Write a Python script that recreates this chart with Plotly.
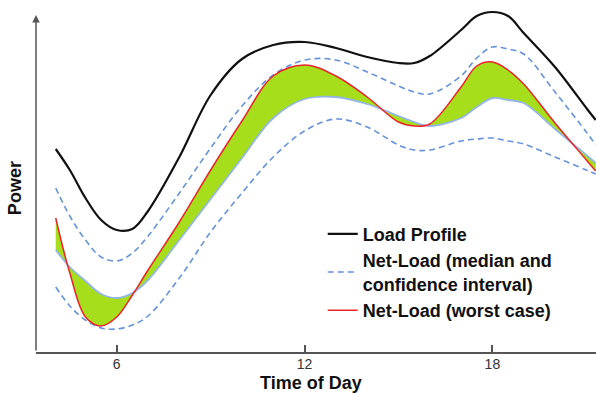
import plotly.graph_objects as go

# Time of day (hours)
hours = [4.05, 4.5, 5, 5.5, 6, 6.5, 7, 8, 9, 10, 11, 12, 13, 14, 15, 15.5, 16, 17, 17.5, 18, 18.5, 19, 20, 21, 21.3]

# Power (arbitrary units)
load_profile = [203, 182, 154, 132, 122, 123, 141, 195, 257, 293, 307, 310, 304, 295, 289, 289, 296, 322, 336, 340, 336, 319, 285, 244, 232]
ci_upper = [164, 136, 112, 95, 91, 99, 116, 159, 204, 246, 277, 292, 292, 280, 266, 260, 258, 276, 294, 305, 303, 298, 260, 220, 207]
median = [102, 85, 71, 58, 54, 59, 72, 112, 153, 194, 234, 253, 255, 248, 236, 230, 226, 234, 245, 254, 252, 249, 223, 197, 189]
worst_case = [134, 79, 35, 26, 35, 57, 82, 130, 182, 231, 276, 287, 276, 255, 230, 226, 228, 265, 286, 290, 282, 268, 229, 192, 181]
ci_lower = [65, 46, 32, 24, 23, 27, 36, 74, 120, 159, 195, 221, 233, 225, 207, 202, 202, 211, 213, 214, 211, 208, 195, 182, 178]

tick_vals = [6, 12, 18]
tick_text = ["6", "12", "18"]

FONT = "Liberation Sans, Arial, sans-serif"
GREEN = "#a6de1c"
DASH_BLUE = "#6592da"
MED_BLUE = "#93b6e4"
RED = "#e8262a"

fig = go.Figure()

# green band between median and worst case
fig.add_trace(go.Scatter(x=hours, y=median, mode="lines", line=dict(width=0, shape="spline"),
                         showlegend=False, hoverinfo="skip"))
fig.add_trace(go.Scatter(x=hours, y=worst_case, mode="lines", line=dict(width=0, shape="spline"),
                         fill="tonexty", fillcolor=GREEN, showlegend=False, hoverinfo="skip"))

# confidence interval (dashed)
fig.add_trace(go.Scatter(x=hours, y=ci_upper, mode="lines",
                         line=dict(color=DASH_BLUE, width=1.6, dash="6px,4px", shape="spline"),
                         name="Net-Load (median and<br>confidence interval)", legendrank=2))
fig.add_trace(go.Scatter(x=hours, y=ci_lower, mode="lines",
                         line=dict(color=DASH_BLUE, width=1.6, dash="6px,4px", shape="spline"),
                         showlegend=False))
# median
fig.add_trace(go.Scatter(x=hours, y=median, mode="lines",
                         line=dict(color=MED_BLUE, width=1.8, shape="spline"), showlegend=False))
# worst case
fig.add_trace(go.Scatter(x=hours, y=worst_case, mode="lines",
                         line=dict(color=RED, width=1.5, shape="spline"),
                         name="Net-Load (worst case)", legendrank=3))
# load profile
fig.add_trace(go.Scatter(x=hours, y=load_profile, mode="lines",
                         line=dict(color="#111111", width=2.2, shape="spline"),
                         name="Load Profile", legendrank=1))

fig.update_layout(
    width=596, height=393,
    margin=dict(l=36, r=0, t=7, b=41),
    paper_bgcolor="white", plot_bgcolor="white",
    font=dict(family=FONT, color="#222"),
    showlegend=True,
    legend=dict(x=0.512, y=0.395, xanchor="left", yanchor="top", traceorder="normal",
                bgcolor="rgba(0,0,0,0)", font=dict(size=18, weight="bold", color="#111", family=FONT),
                tracegroupgap=0),
    xaxis=dict(range=[3.42, 21.31], tickvals=tick_vals, ticktext=tick_text,
               ticks="inside", ticklen=7, tickwidth=1.5, tickcolor="#555",
               showline=True, linecolor="#555", linewidth=1.5,
               showgrid=False, zeroline=False, ticklabelstandoff=-2,
               tickfont=dict(size=14, color="#333", family=FONT)),
    yaxis=dict(range=[0, 345], showline=False, showticklabels=False, ticks="",
               showgrid=False, zeroline=False),
    annotations=[
        dict(x=3.42, y=337, xref="x", yref="y", ax=3.42, ay=0, axref="x", ayref="y",
             text="", showarrow=True, arrowhead=2, arrowsize=1, arrowwidth=1.5,
             arrowcolor="#555", standoff=0),
        dict(x=-0.0375, y=0.475, xref="paper", yref="paper", text="<b>Power</b>",
             textangle=-90, showarrow=False, xanchor="center", yanchor="middle",
             font=dict(size=18, color="#111", family=FONT)),
        dict(x=0.491, y=-0.09, xref="paper", yref="paper", text="<b>Time of Day</b>",
             showarrow=False, xanchor="center", yanchor="middle",
             font=dict(size=18, color="#111", family=FONT)),
    ],
)

fig.write_html("out.html", config={"displayModeBar": False},
               post_script="document.body.style.margin='0';document.body.style.padding='0';")
